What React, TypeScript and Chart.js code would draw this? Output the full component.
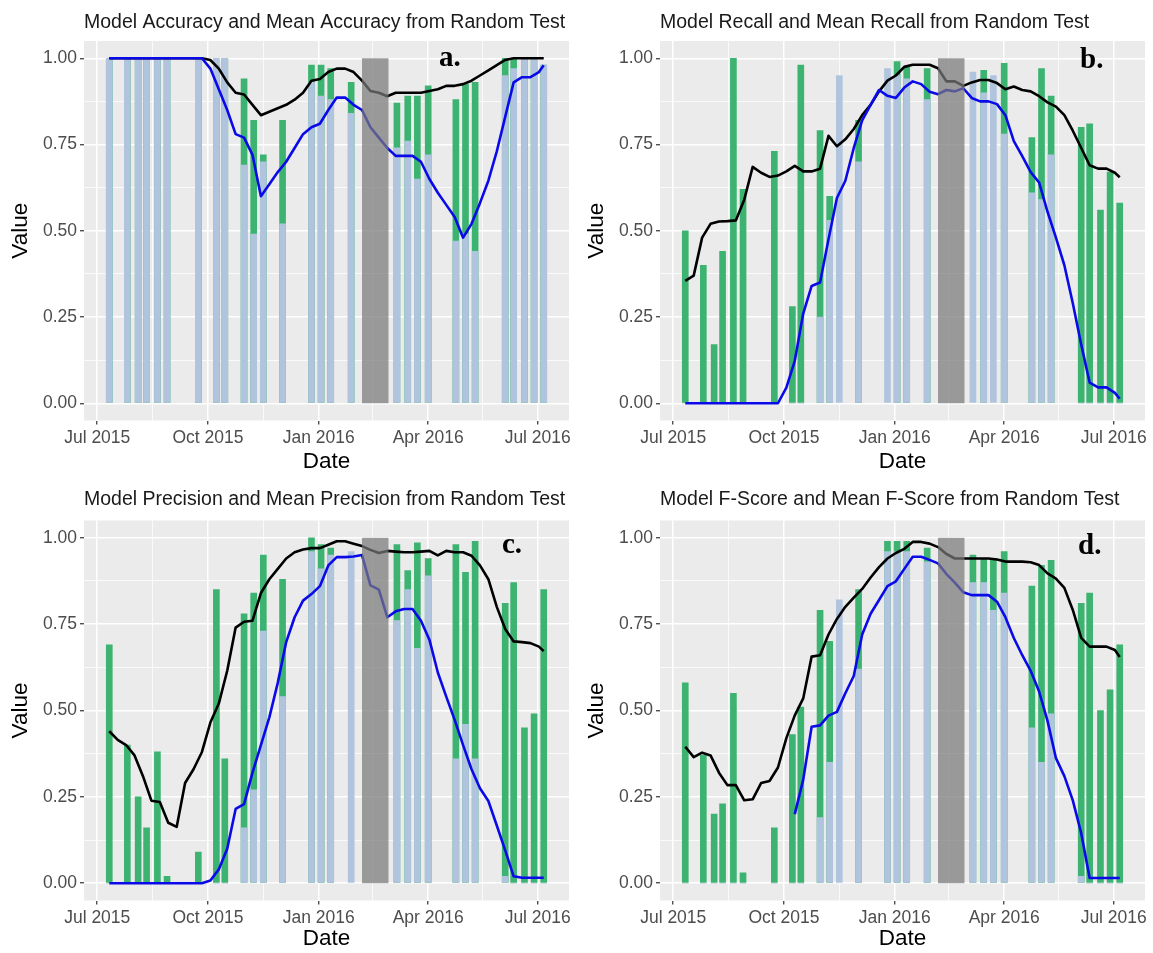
import React, { useEffect, useRef } from "react";
import { Chart, registerables } from "chart.js";

Chart.register(...registerables);

const FONT = '"Liberation Sans", Arial, Helvetica, sans-serif';
const SERIF = '"Liberation Serif", "Times New Roman", serif';

// ---------- axes ----------
const xTickDates = ["2015-07-01", "2015-10-01", "2016-01-01", "2016-04-01", "2016-07-01"];
const xTickLabels = ["Jul 2015", "Oct 2015", "Jan 2016", "Apr 2016", "Jul 2016"];
const xMinorDates = ["2015-08-16", "2015-11-16", "2016-02-15", "2016-05-16"];
const xRangeDates = ["2015-06-20", "2016-07-27"];
const yTickValues = [0, 0.25, 0.5, 0.75, 1];
const yTickLabels = ["0.00", "0.25", "0.50", "0.75", "1.00"];
const yMinorValues = [0.125, 0.375, 0.625, 0.875];
const shadeDates = ["2016-02-06", "2016-02-28"];

// ---------- weekly bars ----------
const barDates = [
  "2015-07-11", "2015-07-26", "2015-08-04", "2015-08-11", "2015-08-20", "2015-08-28",
  "2015-09-23", "2015-10-08", "2015-10-15",
  "2015-10-31", "2015-11-08", "2015-11-16", "2015-12-02",
  "2015-12-26", "2016-01-03", "2016-01-11", "2016-01-28",
  "2016-03-06", "2016-03-15", "2016-03-23", "2016-04-01",
  "2016-04-24", "2016-05-02", "2016-05-10",
  "2016-06-04", "2016-06-11", "2016-06-20", "2016-06-28", "2016-07-06",
];

// ---------- line points ----------
const lineDates = [
  "2015-07-11", "2015-07-18", "2015-07-25", "2015-08-01", "2015-08-08", "2015-08-15",
  "2015-08-22", "2015-08-29", "2015-09-05", "2015-09-12", "2015-09-19", "2015-09-26",
  "2015-10-03", "2015-10-10", "2015-10-17", "2015-10-24", "2015-10-31", "2015-11-07",
  "2015-11-14", "2015-11-21", "2015-11-28", "2015-12-05", "2015-12-12", "2015-12-19",
  "2015-12-26", "2016-01-02", "2016-01-09", "2016-01-16", "2016-01-23", "2016-01-30",
  "2016-02-06", "2016-02-13", "2016-02-20", "2016-02-27", "2016-03-05", "2016-03-12",
  "2016-03-19", "2016-03-26", "2016-04-02", "2016-04-09", "2016-04-16", "2016-04-23",
  "2016-04-30", "2016-05-07", "2016-05-14", "2016-05-21", "2016-05-28", "2016-06-04",
  "2016-06-11", "2016-06-18", "2016-06-25", "2016-07-02", "2016-07-06",
];

// ---------- a. Accuracy ----------
const randomA = [1, 1, 1, 1, 1, 1, 1, 1, 1, 0.69, 0.49, 0.70, 0.52, 0.93, 0.89, 0.88, 0.84,
  0.74, 0.76, 0.65, 0.72, 0.47, 0.49, 0.44, 0.95, 0.97, 1, 1, 0.98];
const modelA = [1, 1, 1, 1, 1, 1, 1, 0.98, 1, 0.94, 0.82, 0.72, 0.82, 0.98, 0.98, 0.97, 0.93,
  0.87, 0.89, 0.89, 0.92, 0.88, 0.925, 0.93, 1, 1, 1, 1, 0.98];
const modelMeanA = [1, 1, 1, 1, 1, 1, 1, 1, 1, 1, 1, 1,
  0.995, 0.97, 0.93, 0.90, 0.895, 0.865, 0.835, 0.845, 0.855, 0.865, 0.88, 0.90, 0.935, 0.94,
  0.96, 0.97, 0.97, 0.96, 0.935, 0.905, 0.90, 0.89, 0.90, 0.90, 0.90, 0.90, 0.905, 0.91, 0.92,
  0.92, 0.925, 0.935, 0.95, 0.965, 0.98, 0.995, 1, 1, 1, 1, 1];
const randomMeanA = [1, 1, 1, 1, 1, 1, 1, 1, 1, 1, 1, 1,
  0.97, 0.91, 0.85, 0.78, 0.77, 0.72, 0.60, 0.635, 0.67, 0.70, 0.74, 0.78, 0.80, 0.81,
  0.85, 0.886, 0.886, 0.865, 0.85, 0.80, 0.77, 0.74, 0.717, 0.717, 0.717, 0.70, 0.65, 0.61, 0.575,
  0.54, 0.48, 0.52, 0.58, 0.645, 0.73, 0.83, 0.93, 0.945, 0.945, 0.96, 0.98];

// ---------- b. Recall ----------
const randomB = [0, 0, 0, 0, 0, 0, 0, 0, 0, 0.25, 0.53, 0.95, 0.70, 0.97, 0.95, 0.94, 0.88,
  0.96, 0.90, 0.95, 0.78, 0.61, 0.59, 0.72, 0, 0, 0, 0, 0];
const modelB = [0.50, 0.40, 0.17, 0.44, 1.0, 0.62, 0.73, 0.28, 0.98, 0.79, 0.60, null, 0.82,
  null, 0.99, 0.975, 0.97, null, 0.965, null, 0.985, 0.77, 0.97, 0.89, 0.80, 0.81, 0.56, 0.67, 0.58];
const modelMeanB = [0.355, 0.37, 0.48, 0.52, 0.527, 0.528, 0.53, 0.59, 0.685, 0.668, 0.656, 0.66,
  0.672, 0.688, 0.672, 0.672, 0.68, 0.775, 0.745, 0.765, 0.795, 0.835, 0.865, 0.904, 0.935, 0.95,
  0.975, 0.981, 0.981, 0.981, 0.971, 0.933, 0.933, 0.92, 0.93, 0.937, 0.937, 0.928, 0.91, 0.918,
  0.908, 0.904, 0.89, 0.872, 0.86, 0.835, 0.79, 0.74, 0.69, 0.68, 0.68, 0.668, 0.655];
const randomMeanB = [0, 0, 0, 0, 0, 0, 0, 0, 0, 0, 0, 0,
  0.045, 0.123, 0.26, 0.34, 0.35, 0.475, 0.595, 0.645, 0.74, 0.82, 0.865, 0.908, 0.891, 0.885,
  0.915, 0.933, 0.925, 0.903, 0.896, 0.908, 0.904, 0.913, 0.885, 0.875, 0.875, 0.867, 0.835, 0.76,
  0.716, 0.67, 0.64, 0.555, 0.48, 0.40, 0.29, 0.17, 0.06, 0.046, 0.046, 0.03, 0.013];

// ---------- c. Precision ----------
const randomC = [0, 0, 0, 0, 0, 0, 0, 0, 0, 0.16, 0.27, 0.73, 0.54, 0.96, 0.91, 0.95, 0.96,
  0.76, 0.85, 0.68, 0.89, 0.36, 0.46, 0.36, 0.02, 0, 0, 0, 0];
const modelC = [0.69, 0.40, 0.25, 0.16, 0.38, 0.02, 0.09, 0.85, 0.36, 0.78, 0.84, 0.95, 0.88,
  1.0, 0.98, 0.97, null, 0.98, 0.905, 0.985, 0.94, 0.98, 0.90, 0.99, 0.81, 0.87, 0.45, 0.49, 0.85];
const modelMeanC = [0.44, 0.415, 0.40, 0.37, 0.31, 0.239, 0.235, 0.175, 0.163, 0.29, 0.33, 0.38,
  0.465, 0.52, 0.615, 0.74, 0.757, 0.76, 0.84, 0.88, 0.91, 0.94, 0.958, 0.966, 0.97, 0.97,
  0.98, 0.99, 0.99, 0.983, 0.976, 0.965, 0.956, 0.962, 0.96, 0.958, 0.958, 0.96, 0.962, 0.949,
  0.962, 0.958, 0.958, 0.948, 0.92, 0.88, 0.80, 0.736, 0.70, 0.698, 0.695, 0.685, 0.672];
const randomMeanC = [0, 0, 0, 0, 0, 0, 0, 0, 0, 0, 0, 0,
  0.008, 0.04, 0.10, 0.215, 0.229, 0.32, 0.40, 0.48, 0.58, 0.698, 0.77, 0.818, 0.837, 0.86,
  0.92, 0.944, 0.944, 0.946, 0.95, 0.862, 0.85, 0.77, 0.787, 0.794, 0.794, 0.76, 0.705, 0.61,
  0.54, 0.473, 0.40, 0.33, 0.275, 0.238, 0.167, 0.095, 0.02, 0.016, 0.016, 0.016, 0.016];

// ---------- d. F-Score ----------
const randomD = [0, 0, 0, 0, 0, 0, 0, 0, 0, 0.19, 0.35, 0.82, 0.62, 0.96, 0.96, 0.96, 0.93,
  0.87, 0.87, 0.79, 0.84, 0.45, 0.35, 0.49, 0.02, 0, 0, 0, 0];
const modelD = [0.58, 0.37, 0.20, 0.23, 0.55, 0.03, 0.16, 0.43, 0.51, 0.79, 0.70, null, 0.85,
  0.99, 0.99, 0.99, 0.97, 0.95, 0.94, 0.94, 0.96, 0.86, 0.92, 0.935, 0.81, 0.84, 0.50, 0.56, 0.69];
const modelMeanD = [0.395, 0.365, 0.378, 0.37, 0.32, 0.284, 0.284, 0.24, 0.243, 0.29, 0.296, 0.335,
  0.42, 0.486, 0.535, 0.656, 0.66, 0.72, 0.765, 0.80, 0.827, 0.852, 0.885, 0.915, 0.94, 0.956,
  0.968, 0.988, 0.988, 0.983, 0.973, 0.953, 0.94, 0.94, 0.94, 0.94, 0.94, 0.937, 0.931, 0.931,
  0.931, 0.929, 0.921, 0.897, 0.882, 0.855, 0.791, 0.71, 0.685, 0.685, 0.685, 0.675, 0.655];
const randomMeanD = [null, null, null, null, null, null, null, null, null, null, null, null, null,
  0.20, 0.30, 0.453, 0.457, 0.485, 0.496, 0.55, 0.60, 0.72, 0.78, 0.82, 0.86, 0.874,
  0.91, 0.945, 0.945, 0.936, 0.926, 0.895, 0.87, 0.842, 0.834, 0.834, 0.834, 0.815, 0.77, 0.71,
  0.66, 0.615, 0.555, 0.47, 0.362, 0.31, 0.24, 0.145, 0.015, 0.015, 0.015, 0.015, 0.015];

const titles = [
  "Model Accuracy and Mean Accuracy from Random Test",
  "Model Recall and Mean Recall from Random Test",
  "Model Precision and Mean Precision from Random Test",
  "Model F-Score and Mean F-Score from Random Test",
];
const letters = ["a.", "b.", "c.", "d."];

function dayOf(s: string): number {
  const [y, m, d] = s.split("-").map(Number);
  return (Date.UTC(y, m - 1, d) - Date.UTC(2015, 6, 1)) / 86400000;
}

type Spec = {
  title: string; letter: string;
  random: (number | null)[]; model: (number | null)[];
  modelMean: (number | null)[]; randomMean: (number | null)[];
  left: number; top: number; w: number; h: number;
  areaLeft: number; areaRight: number; areaTop: number; areaBottom: number;
  titleCenter: number; letterX: number; letterY: number;
};

const specs: Spec[] = [
  { title: titles[0], letter: letters[0], random: randomA, model: modelA, modelMean: modelMeanA, randomMean: randomMeanA,
    left: 0, top: 0, w: 576, h: 476, areaLeft: 84, areaRight: 569, areaTop: 41, areaBottom: 420.5,
    titleCenter: 22.5, letterX: 439, letterY: 66 },
  { title: titles[1], letter: letters[1], random: randomB, model: modelB, modelMean: modelMeanB, randomMean: randomMeanB,
    left: 576, top: 0, w: 577, h: 476, areaLeft: 84, areaRight: 569, areaTop: 41, areaBottom: 420.5,
    titleCenter: 22.5, letterX: 504, letterY: 68 },
  { title: titles[2], letter: letters[2], random: randomC, model: modelC, modelMean: modelMeanC, randomMean: randomMeanC,
    left: 0, top: 476, w: 576, h: 477, areaLeft: 84, areaRight: 569, areaTop: 44.5, areaBottom: 424.5,
    titleCenter: 24, letterX: 502, letterY: 77 },
  { title: titles[3], letter: letters[3], random: randomD, model: modelD, modelMean: modelMeanD, randomMean: randomMeanD,
    left: 576, top: 476, w: 577, h: 477, areaLeft: 84, areaRight: 569, areaTop: 44.5, areaBottom: 424.5,
    titleCenter: 24, letterX: 502, letterY: 78 },
];

function Panel({ spec }: { spec: Spec }) {
  const ref = useRef<HTMLCanvasElement>(null);
  useEffect(() => {
    const canvas = ref.current;
    if (!canvas) return;
    const xMajor = xTickDates.map(dayOf);
    const xMinor = xMinorDates.map(dayOf);
    const xAll = [...xMajor, ...xMinor].sort((a, b) => a - b);
    const yAll = [...yTickValues, ...yMinorValues].sort((a, b) => a - b);
    const isXMajor = (v: number) => xMajor.some((d) => Math.abs(d - v) < 1e-6);
    const isYMajor = (v: number) => yTickValues.some((d) => Math.abs(d - v) < 1e-6);
    const barX = barDates.map(dayOf);
    const lineX = lineDates.map(dayOf);
    const titleLH = 19.5 * 1.2;
    const titleTop = spec.titleCenter - titleLH / 2;
    const titleBottom = spec.areaTop - titleTop - titleLH;

    const panelBg = {
      id: "panelBg",
      beforeDraw(chart: any) {
        const { ctx, chartArea } = chart;
        ctx.save();
        ctx.fillStyle = "#ebebeb";
        ctx.fillRect(chartArea.left, chartArea.top, chartArea.right - chartArea.left, chartArea.bottom - chartArea.top);
        ctx.restore();
      },
    };
    const shade = {
      id: "shade",
      afterDatasetsDraw(chart: any) {
        const { ctx, scales } = chart;
        const x0 = scales.x.getPixelForValue(dayOf(shadeDates[0]));
        const x1 = scales.x.getPixelForValue(dayOf(shadeDates[1]));
        const y0 = scales.y.getPixelForValue(1);
        const y1 = scales.y.getPixelForValue(0);
        ctx.save();
        ctx.fillStyle = "rgba(121,121,121,0.72)";
        ctx.fillRect(x0, y0, x1 - x0, y1 - y0);
        ctx.restore();
      },
    };
    const letterPlugin = {
      id: "letter",
      afterDraw(chart: any) {
        const { ctx } = chart;
        ctx.save();
        ctx.font = `bold 29px ${SERIF}`;
        ctx.fillStyle = "#000";
        ctx.textBaseline = "alphabetic";
        ctx.textAlign = "left";
        ctx.fillText(spec.letter, spec.letterX, spec.letterY);
        ctx.restore();
      },
    };

    const chart = new Chart(canvas, {
      type: "bar",
      data: {
        datasets: [
          {
            type: "line",
            data: lineX.map((x, i) => ({ x, y: spec.randomMean[i] })) as any,
            borderColor: "#0a0ae8",
            borderWidth: 2.6,
            pointRadius: 0,
            tension: 0,
            borderJoinStyle: "round",
            spanGaps: false,
            order: 0,
          },
          {
            type: "line",
            data: lineX.map((x, i) => ({ x, y: spec.modelMean[i] })) as any,
            borderColor: "#000000",
            borderWidth: 2.6,
            pointRadius: 0,
            tension: 0,
            borderJoinStyle: "round",
            order: 1,
          },
          {
            type: "bar",
            data: barX.map((x, i) => ({ x, y: spec.random[i] })) as any,
            backgroundColor: "#b0c4de",
            barThickness: 6,
            grouped: false,
            order: 2,
          },
          {
            type: "bar",
            data: barX.map((x, i) => ({ x, y: spec.model[i] })) as any,
            backgroundColor: "#3cb371",
            barThickness: 6,
            grouped: false,
            order: 3,
          },
        ],
      },
      options: {
        animation: false,
        responsive: false,
        maintainAspectRatio: false,
        events: [],
        layout: { padding: { left: 0, right: spec.w - spec.areaRight, top: 0, bottom: 0 } },
        plugins: {
          legend: { display: false },
          tooltip: { enabled: false },
          title: {
            display: true,
            text: spec.title,
            align: "start",
            fullSize: false,
            color: "#1a1a1a",
            font: { family: FONT, size: 19.5, weight: "normal" },
            padding: { top: titleTop, bottom: titleBottom },
          },
        },
        scales: {
          x: {
            type: "linear",
            min: dayOf(xRangeDates[0]),
            max: dayOf(xRangeDates[1]),
            offset: false,
            afterBuildTicks: (s: any) => {
              s.ticks = xAll.map((v) => ({ value: v }));
            },
            afterFit: (s: any) => {
              s.height = spec.h - spec.areaBottom;
            },
            ticks: {
              autoSkip: false,
              maxRotation: 0,
              minRotation: 0,
              padding: 3,
              color: "#4d4d4d",
              font: { family: FONT, size: 17.5 },
              callback: (v: any) => {
                const i = xMajor.findIndex((d) => Math.abs(d - Number(v)) < 1e-6);
                return i >= 0 ? xTickLabels[i] : "";
              },
            },
            grid: {
              offset: false,
              color: "#ffffff",
              lineWidth: (c: any) => (c.tick && isXMajor(c.tick.value) ? 1.5 : 0.75),
              drawTicks: true,
              tickLength: 4,
              tickColor: (c: any) => (c.tick && isXMajor(c.tick.value) ? "#333333" : "rgba(0,0,0,0)"),
              tickWidth: 1.2,
            },
            border: { display: false },
            title: {
              display: true,
              text: "Date",
              color: "#000",
              font: { family: FONT, size: 22.5 },
              padding: { top: 0, bottom: 1 },
            },
          },
          y: {
            type: "linear",
            min: -0.05,
            max: 1.05,
            afterBuildTicks: (s: any) => {
              s.ticks = yAll.map((v) => ({ value: v }));
            },
            afterFit: (s: any) => {
              s.width = spec.areaLeft;
            },
            ticks: {
              autoSkip: false,
              padding: 3,
              color: "#4d4d4d",
              font: { family: FONT, size: 17.5 },
              callback: (v: any) => {
                const i = yTickValues.findIndex((d) => Math.abs(d - Number(v)) < 1e-6);
                return i >= 0 ? yTickLabels[i] : "";
              },
            },
            grid: {
              color: "#ffffff",
              lineWidth: (c: any) => (c.tick && isYMajor(c.tick.value) ? 1.5 : 0.75),
              drawTicks: true,
              tickLength: 4,
              tickColor: (c: any) => (c.tick && isYMajor(c.tick.value) ? "#333333" : "rgba(0,0,0,0)"),
              tickWidth: 1.2,
            },
            border: { display: false },
            title: {
              display: true,
              text: "Value",
              color: "#000",
              font: { family: FONT, size: 22.5 },
              padding: { top: 7, bottom: 0 },
            },
          },
        },
      } as any,
      plugins: [panelBg, shade, letterPlugin],
    });
    return () => chart.destroy();
  }, [spec]);

  return (
    <canvas
      ref={ref}
      width={spec.w}
      height={spec.h}
      style={{ position: "absolute", left: spec.left, top: spec.top, width: spec.w, height: spec.h }}
    />
  );
}

export default function App() {
  return (
    <div style={{ position: "absolute", left: 0, top: 0, width: 1153, height: 953, background: "#ffffff" }}>
      {specs.map((s) => (
        <Panel key={s.letter} spec={s} />
      ))}
    </div>
  );
}
